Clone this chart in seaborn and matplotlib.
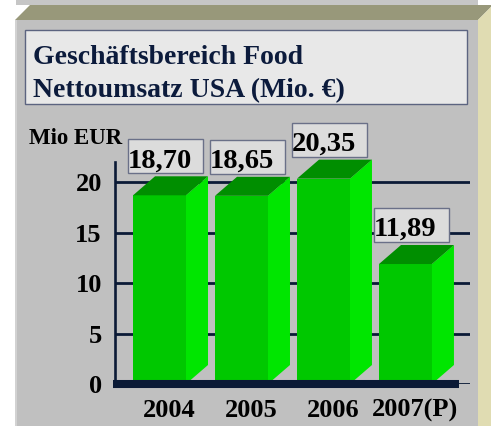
import numpy as np
import pandas as pd
import matplotlib
matplotlib.use("Agg")
import matplotlib.pyplot as plt
import seaborn as sns
from matplotlib.patches import Polygon, Rectangle
from matplotlib.transforms import ScaledTranslation

# ---- data -------------------------------------------------------------
years = ["2004", "2005", "2006", "2007(P)"]
revenue = [18.70, 18.65, 20.35, 11.89]
value_labels = ["18,70", "18,65", "20,35", "11,89"]
y_ticks = [0, 5, 10, 15, 20]
title_lines = ["Geschäftsbereich Food", "Nettoumsatz USA (Mio. €)"]
unit_label = "Mio EUR"

# ---- style ------------------------------------------------------------
sns.set_style("white")
plt.rcParams["font.family"] = ["Liberation Serif", "DejaVu Serif"]
plt.rcParams["font.weight"] = "bold"

NAVY = "#0b1a36"
TITLE_NAVY = "#0c1b3c"
FRONT = "#00c800"
SIDE = "#00e600"
TOP = "#008e00"

W, H = 491, 426
fig = plt.figure(figsize=(W / 100, H / 100), dpi=100)
fig.patch.set_facecolor("white")

# ---- 3D panel background (pixel coordinates) --------------------------
bg = fig.add_axes([0, 0, 1, 1], zorder=0)
bg.set_xlim(0, W)
bg.set_ylim(H, 0)
bg.axis("off")
bg.add_patch(Rectangle((16, 0), 462, 5, fc="#c6c6c6", ec="none"))
bg.add_patch(Rectangle((15, 20), 463, 406, fc="#c0c0c0", ec="none"))
bg.add_patch(Rectangle((15, 20), 2, 406, fc="#d2d2d2", ec="none"))
bg.add_patch(Polygon([(15, 20), (30, 5), (491, 5), (491, 7), (478, 20)],
                     closed=True, fc="#98987a", ec="none"))
bg.add_patch(Polygon([(478, 20), (491, 7), (491, 426), (478, 426)],
                     closed=True, fc="#e0dcb2", ec="none"))
bg.add_patch(Rectangle((25, 30), 442, 74, fc="#e8e8e8", ec="#5c6480", lw=1))
bg.text(33, 64, title_lines[0], fontsize=20, fontweight="bold",
        color=TITLE_NAVY, va="baseline", ha="left")
bg.text(33, 97, title_lines[1], fontsize=20, fontweight="bold",
        color=TITLE_NAVY, va="baseline", ha="left")
bg.text(29, 144, unit_label, fontsize=16.5, fontweight="bold",
        color="black", va="baseline", ha="left")

# ---- chart axes -------------------------------------------------------
ax = fig.add_axes([115 / W, (H - 384) / H, 355 / W, 222 / H], zorder=1)
ax.patch.set_alpha(0)

df = pd.DataFrame({"year": years, "revenue": revenue})
sns.barplot(data=df, x="year", y="revenue", color=FRONT, saturation=1,
            width=0.646, ax=ax, zorder=3, linewidth=0)

ax.set_xlim(-0.543, 3.787)
ax.set_ylim(0, 22)
ax.set_yticks(y_ticks)
ax.set_yticklabels([str(t) for t in y_ticks])
ax.set_xlabel("")
ax.set_ylabel("")

for side in ["top", "right", "bottom"]:
    ax.spines[side].set_visible(False)
ax.spines["left"].set_color(NAVY)
ax.spines["left"].set_linewidth(1.9)

ax.set_axisbelow(True)
ax.yaxis.grid(True, color=NAVY, linewidth=2.0)
ax.xaxis.grid(False)
ax.tick_params(axis="y", direction="inout", length=14, width=2.0,
               color=NAVY, pad=2.5, labelsize=19, labelcolor="black")
ax.tick_params(axis="x", length=0, pad=10.5, labelsize=19, labelcolor="black")
for lab in ax.get_yticklabels() + ax.get_xticklabels():
    lab.set_fontweight("bold")
for lab in ax.get_xticklabels():
    lab.set_transform(lab.get_transform()
                      + ScaledTranslation(0.10, 0, fig.dpi_scale_trans))


def px_to_data(dx, dy):
    p0 = ax.transData.transform((0, 0))
    q = ax.transData.inverted().transform(p0 + np.array([dx, dy]))
    return q[0], q[1]


# depth of the 3D bars
ddx, ddy = px_to_data(22, 19)

for bar in list(ax.patches):
    x0, w, h = bar.get_x(), bar.get_width(), bar.get_height()
    x1 = x0 + w
    ax.add_patch(Polygon([(x1, 0), (x1, h), (x1 + ddx, h + ddy), (x1 + ddx, ddy)],
                         closed=True, fc=SIDE, ec="none", zorder=3,
                         clip_on=False))
    ax.add_patch(Polygon([(x0, h), (x1, h), (x1 + ddx, h + ddy), (x0 + ddx, h + ddy)],
                         closed=True, fc=TOP, ec="none", zorder=3,
                         clip_on=False))

# floor line
fx0, _ = px_to_data(-2, 0)
fx1, _ = px_to_data(344, 0)
ax.plot([-0.543 + fx0, -0.543 + fx1], [0, 0], color=NAVY, lw=5.8,
        solid_capstyle="butt", clip_on=False, zorder=5)

# value boxes above the bars
bx_l, _ = px_to_data(-31.5, 0)
bw, _ = px_to_data(75, 0)
_, by = px_to_data(0, 22)
_, bh = px_to_data(0, 34)
_, ty = px_to_data(0, 28)
for i, (v, txt) in enumerate(zip(revenue, value_labels)):
    ax.add_patch(Rectangle((i + bx_l, v + by), bw, bh, fc="#dcdcdc",
                           ec="#6a7088", lw=1, zorder=6, clip_on=False))
    ax.text(i, v + ty, txt, ha="center", va="baseline", fontsize=20.5,
            fontweight="bold", color="black", zorder=7, clip_on=False)

fig.savefig("out.png", dpi=100)
